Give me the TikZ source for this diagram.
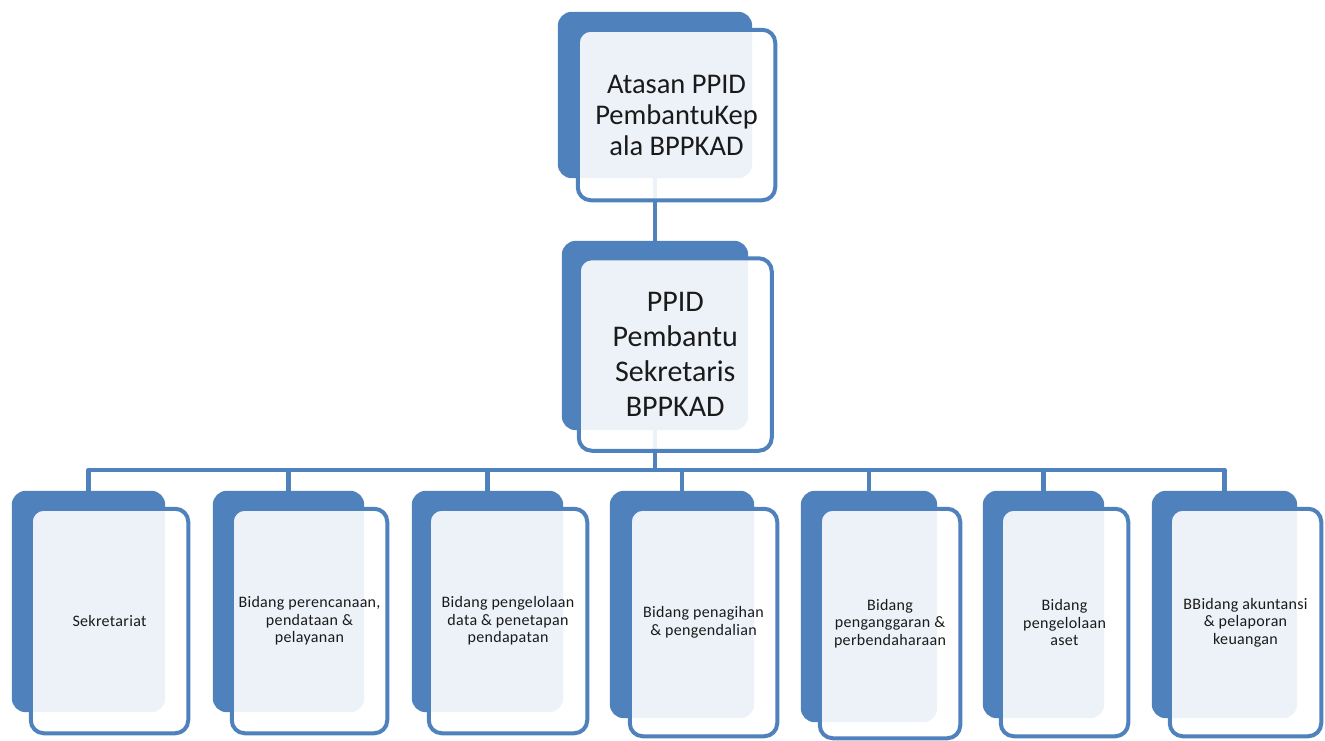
\documentclass[tikz,border=0pt]{standalone}
\usepackage{fontspec}
\setmainfont{Carlito}
\definecolor{accent}{HTML}{4F81BD}
\definecolor{txt}{HTML}{1A1A1A}
\begin{document}
\begin{tikzpicture}[x=1pt,y=-1pt,
  backbox/.style={fill=accent, draw=none, rounded corners=14pt, inner sep=0pt},
  frontbox/.style={draw=accent, line width=4pt, fill=white, fill opacity=0.9, text opacity=1, text=txt, rounded corners=13pt, inner sep=0pt, align=center},
  link/.style={draw=accent, line width=4.5pt, line join=round},
  bigtext/.style={font=\fontsize{28.5}{31}\selectfont},
  midtext/.style={font=\fontsize{30}{35}\selectfont},
  smalltext/.style={font=\fontsize{16}{17.5}\selectfont\addfontfeature{LetterSpace=2}}]
\useasboundingbox (0,0) rectangle (1325,740);
\coordinate (bus) at (0,470);
% back boxes (named first so connectors can use them; filled later)
\node[backbox, fill=none, minimum width=194pt, minimum height=166pt] (tb) at (655,95) {};
\node[backbox, fill=none, minimum width=186pt, minimum height=189pt] (mb) at (655,335.5) {};
\node[backbox, fill=none, minimum width=153pt, minimum height=221pt] (b1) at (88.5,601.5) {};
\node[backbox, fill=none, minimum width=151pt, minimum height=221pt] (b2) at (288.5,601.5) {};
\node[backbox, fill=none, minimum width=151pt, minimum height=221pt] (b3) at (487.5,601.5) {};
\node[backbox, fill=none, minimum width=144pt, minimum height=227pt] (b4) at (682,604.5) {};
\node[backbox, fill=none, minimum width=136pt, minimum height=231pt] (b5) at (869,606.5) {};
\node[backbox, fill=none, minimum width=121pt, minimum height=227pt] (b6) at (1043.5,604.5) {};
\node[backbox, fill=none, minimum width=145pt, minimum height=227pt] (b7) at (1224.5,604.5) {};
% connectors
\draw[link] (tb.center) -- (mb.center);
\draw[link] (mb.center) -- (mb.center |- bus);
\draw[link] (b1.north) -- (b1.center |- bus) -- (b7.center |- bus) -- (b7.north);
\foreach \i in {2,...,6} {\draw[link] (b\i.center |- bus) -- (b\i.north);}
% back boxes filled
\foreach \n in {tb,mb,b1,b2,b3,b4,b5,b6,b7} {
  \fill[accent, rounded corners=14pt] (\n.south west) rectangle (\n.north east);
}
% front boxes
\node[frontbox, bigtext, minimum width=197.5pt, minimum height=170.5pt] (tf) at (676.5,115) {Atasan PPID\\PembantuKep\\ala BPPKAD};
\node[frontbox, midtext, minimum width=193pt, minimum height=192.5pt] (mf) at (675.25,354.5) {PPID\\Pembantu\\Sekretaris\\BPPKAD};
\node[frontbox, smalltext, minimum width=157.5pt, minimum height=224.5pt] (f1) at (109.5,621) {Sekretariat};
\node[frontbox, smalltext, minimum width=155.5pt, minimum height=224.5pt] (f2) at (309.5,621) {Bidang perencanaan,\\pendataan \&\\pelayanan};
\node[frontbox, smalltext, minimum width=158.5pt, minimum height=224.5pt] (f3) at (508,621) {Bidang pengelolaan\\data \& penetapan\\pendapatan};
\node[frontbox, smalltext, minimum width=147.5pt, minimum height=227.5pt] (f4) at (703.5,622.5) {Bidang penagihan\\\& pengendalian};
\node[frontbox, smalltext, minimum width=140.5pt, minimum height=229.5pt] (f5) at (890,623.5) {Bidang\\penganggaran \&\\perbendaharaan};
\node[frontbox, smalltext, minimum width=127.5pt, minimum height=227.5pt] (f6) at (1064.5,622.5) {Bidang\\pengelolaan\\aset};
\node[frontbox, smalltext, minimum width=151.5pt, minimum height=227.5pt] (f7) at (1245.5,622.5) {BBidang akuntansi\\\& pelaporan\\keuangan};
\end{tikzpicture}
\end{document}
